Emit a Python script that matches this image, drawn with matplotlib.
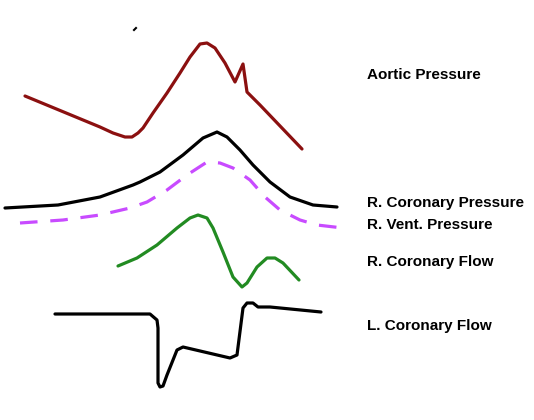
import matplotlib.pyplot as plt

# curves, in pixel units (y grows downward)
aortic_x = [25, 100, 113, 125, 132, 138, 143, 153, 167, 180, 190, 200, 207, 215,
            225, 235, 243, 247, 260, 302]
aortic_y = [96, 127, 133, 137, 137, 133, 128, 113, 93, 73, 57, 44, 43, 48,
            63, 82, 64, 92, 105, 149]

rcp_x = [5, 58, 100, 133, 140, 160, 183, 203, 217, 227, 240, 253, 270, 290, 313, 337]
rcp_y = [208, 205, 197, 185, 182, 172, 155, 138, 132, 137, 150, 165, 182, 197, 205, 207]

rvp_x = [20, 63, 100, 130, 147, 167, 187, 207, 220, 233, 250, 265, 280, 300, 317, 343]
rvp_y = [223, 220, 215, 208, 202, 190, 175, 162, 163, 168, 180, 197, 210, 220, 225, 228]

rcf_x = [118, 137, 157, 177, 190, 198, 207, 213, 223, 233, 242, 247, 257, 267, 275,
         283, 299]
rcf_y = [266, 258, 245, 228, 218, 215, 218, 228, 252, 277, 287, 283, 267, 258, 258,
         263, 280]

lcf_x = [55, 130, 150, 157, 158, 158, 160, 163, 167, 177, 183, 230, 237, 243, 247,
         253, 258, 270, 321]
lcf_y = [314, 314, 314, 320, 328, 383, 387, 386, 375, 350, 347, 358, 355, 308, 303,
         303, 307, 307, 312]

labels = ["Aortic Pressure", "R. Coronary Pressure", "R. Vent. Pressure",
          "R. Coronary Flow", "L. Coronary Flow"]
label_y = [75, 203, 225, 262, 326]

fig = plt.figure(figsize=(5.34, 4.2), dpi=100)
ax = fig.add_axes([0, 0, 1, 1])
ax.set_xlim(0, 534)
ax.set_ylim(420, 0)
ax.axis('off')

kw = dict(lw=2.3, solid_joinstyle='round', solid_capstyle='round')
ax.plot(aortic_x, aortic_y, color='#8b1010', **kw)
ax.plot(rcp_x, rcp_y, color='black', **kw)
ax.plot(rvp_x, rvp_y, color='#c84bff', lw=2.3, dashes=(5.5, 4))
ax.plot(rcf_x, rcf_y, color='#228b22', **kw)
ax.plot(lcf_x, lcf_y, color='black', **kw)

# little stray mark at the top
ax.plot([134, 136], [30, 28], color='black', lw=1.5)

for t, y in zip(labels, label_y):
    ax.text(367, y, t, fontsize=11, fontweight='bold', family='Liberation Sans',
            va='center', ha='left')

fig.savefig('out.png', dpi=100)
